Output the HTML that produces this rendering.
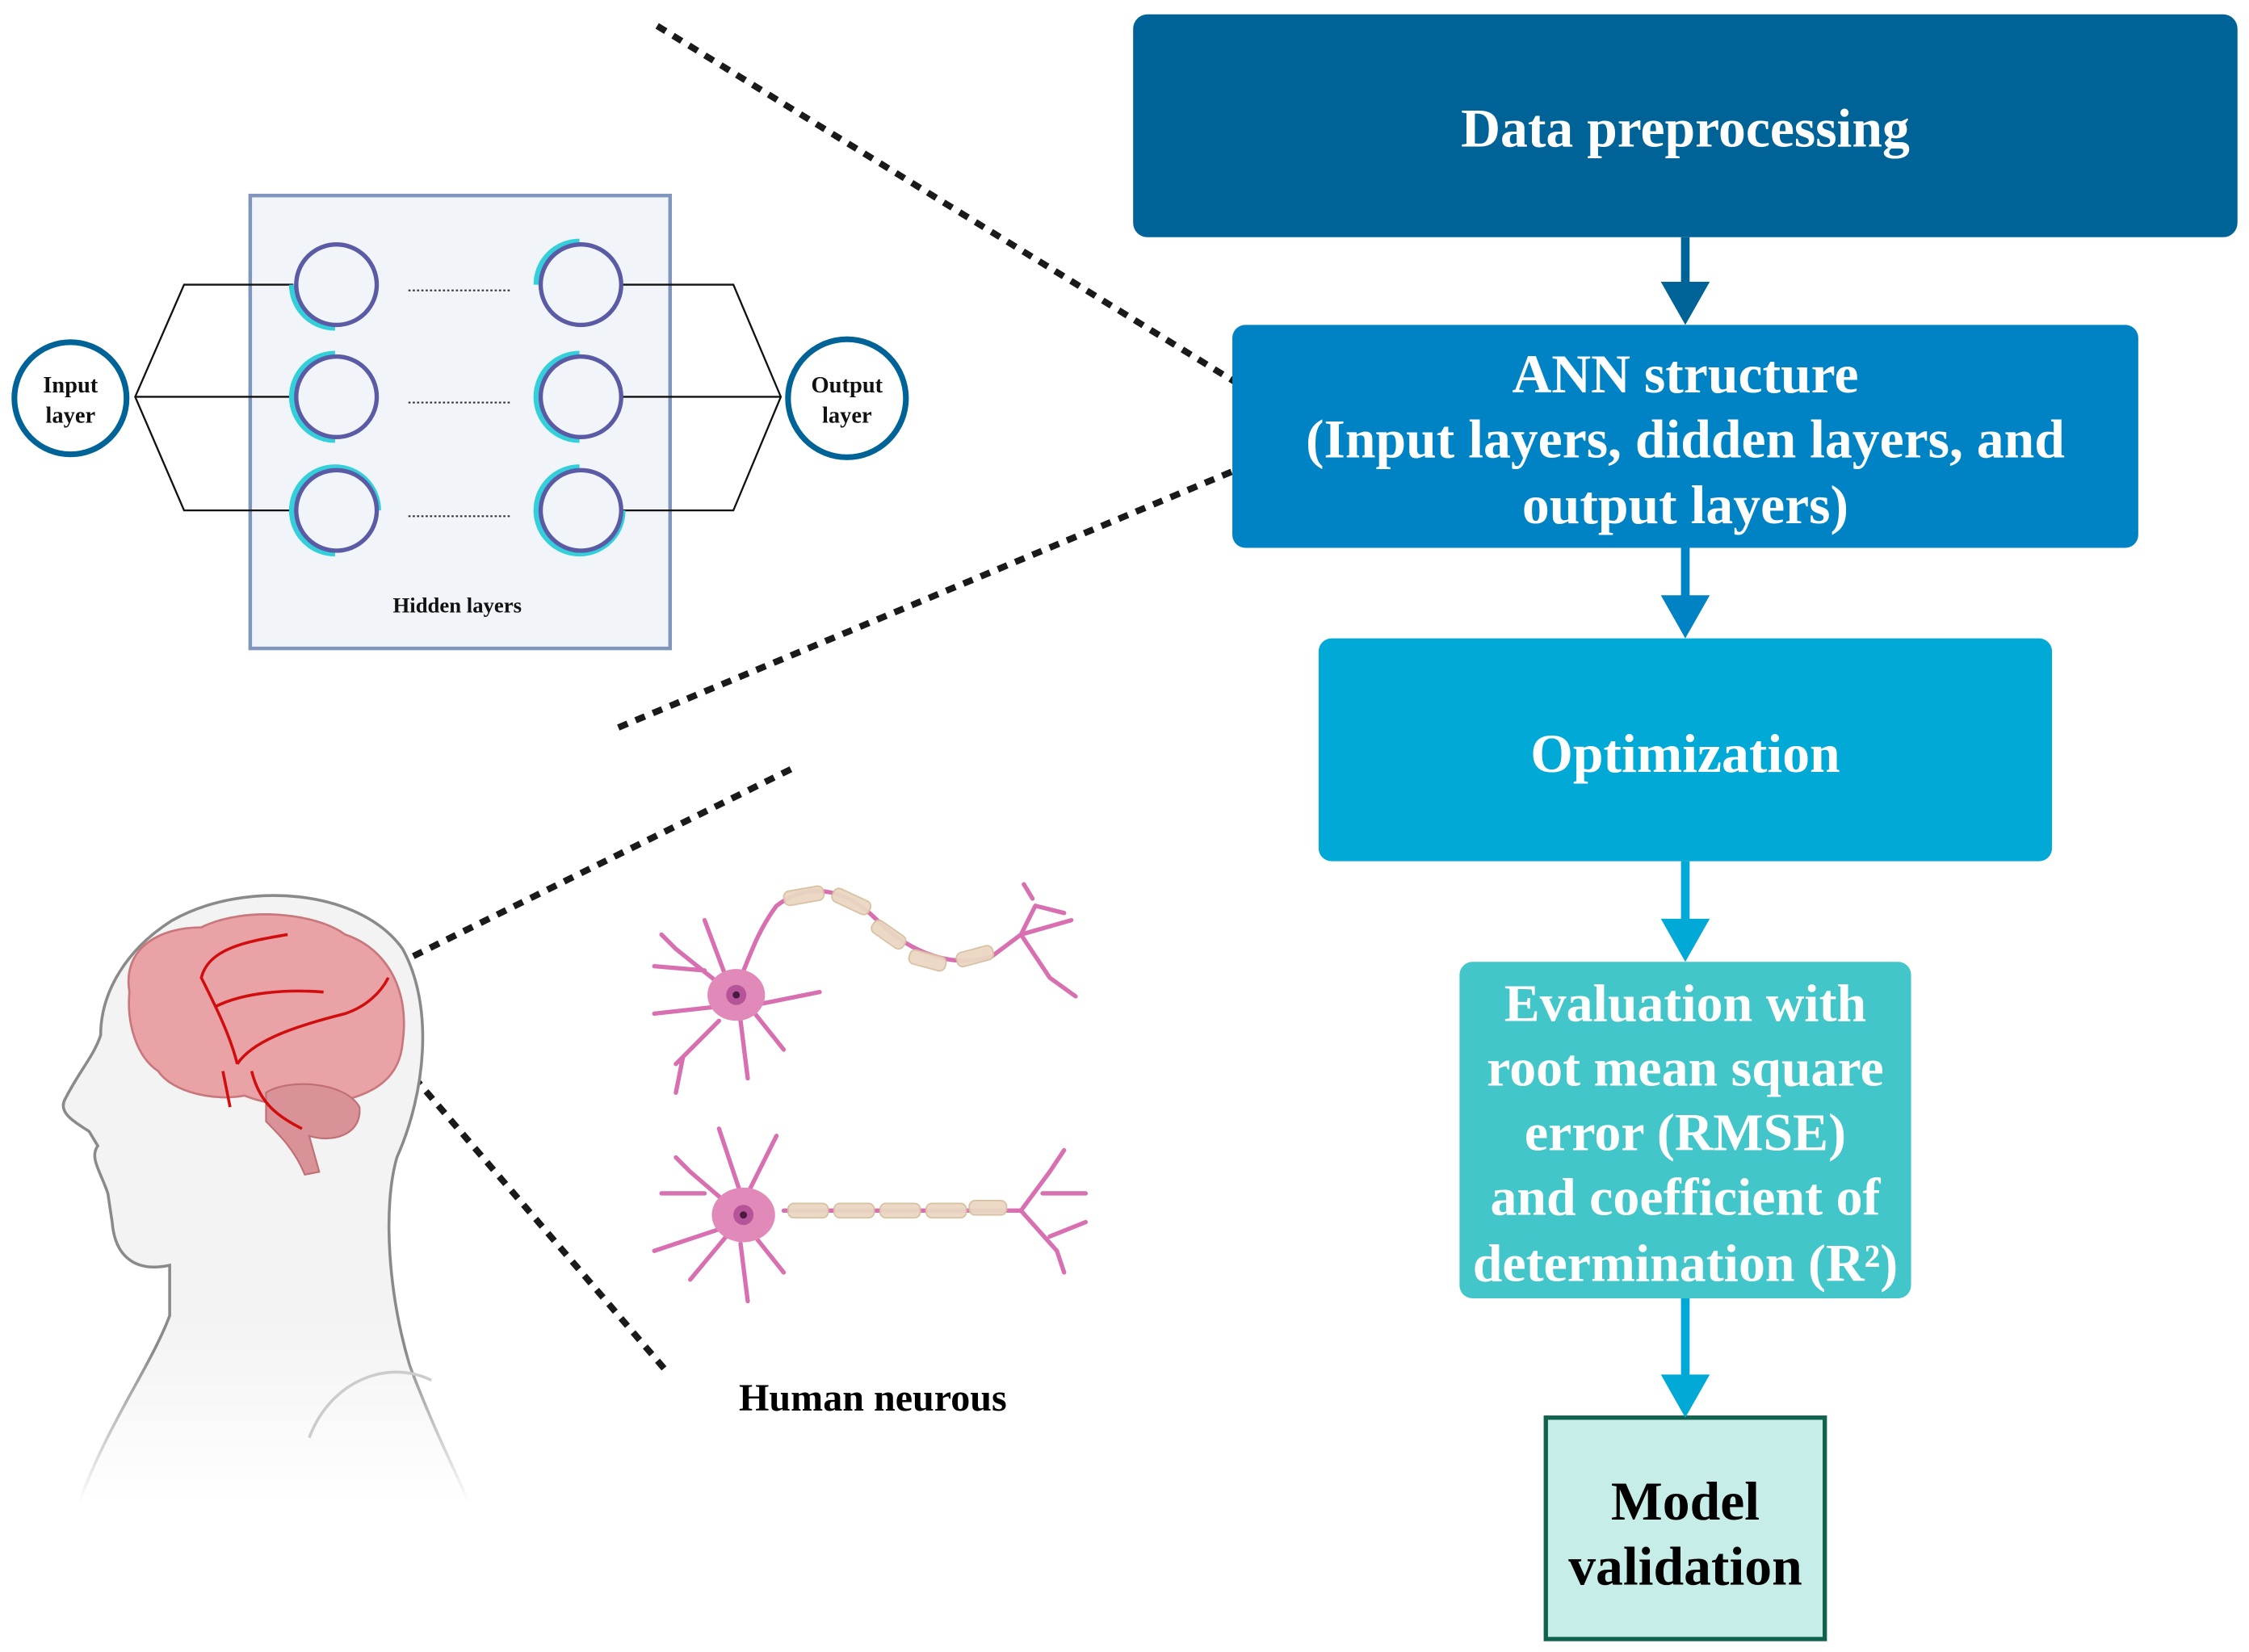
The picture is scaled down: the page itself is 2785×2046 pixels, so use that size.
<!DOCTYPE html>
<html><head><meta charset="utf-8"><style>
html,body{margin:0;padding:0;background:#fff}
svg{display:block}
text{font-family:"Liberation Serif",serif;font-weight:bold}
</style></head><body>
<svg width="2785" height="2046" viewBox="0 0 1564 1149" xmlns="http://www.w3.org/2000/svg">
<g stroke="#1a1a1a" stroke-width="4.5" stroke-dasharray="7,6" fill="none">
<line x1="457" y1="18" x2="900" y2="291"/>
<line x1="430" y1="506" x2="900" y2="310"/>
<line x1="550" y1="535" x2="237" y2="690"/>
<line x1="237" y1="690" x2="462" y2="952"/>
</g>

<rect x="174" y="136" width="292" height="315" fill="#f1f5fa" stroke="#8096bd" stroke-width="2.5"/>
<g stroke="#111" stroke-width="1.3" fill="none">
<polyline points="204,198 128,198 94,276 128,355 204,355"/>
<line x1="94" y1="276" x2="204" y2="276"/>
<polyline points="432,198 510,198 543,276 510,355 432,355"/>
<line x1="432" y1="276" x2="543" y2="276"/>
</g>
<g stroke="#333" stroke-width="1.2" stroke-dasharray="1.5,1.5">
<line x1="284" y1="202" x2="356" y2="202"/>
<line x1="284" y1="280" x2="356" y2="280"/>
<line x1="284" y1="359" x2="356" y2="359"/>
</g>
<g fill="none" stroke="#33d0dc" stroke-width="4">
<path d="M203 198 A30 30 0 0 0 233 228"/>
<path d="M233 246 A30 30 0 0 0 233 306"/>
<path d="M233 325 A30 30 0 0 1 263 355"/>
<path d="M233 325 A30 30 0 0 0 233 385"/>
<path d="M403 168 A30 30 0 0 0 373 198"/>
<path d="M403 246 A30 30 0 0 0 403 306"/>
<path d="M403 325 A30 30 0 0 0 403 385"/>
<path d="M433 355 A30 30 0 0 1 403 385"/>
</g>
<g fill="#f1f5fa" stroke="#5a5aa5" stroke-width="3">
<circle cx="234" cy="198" r="28"/><circle cx="234" cy="276" r="28"/><circle cx="234" cy="355" r="28"/>
<circle cx="404" cy="198" r="28"/><circle cx="404" cy="276" r="28"/><circle cx="404" cy="355" r="28"/>
</g>
<g fill="#fff" stroke="#006397" stroke-width="4">
<circle cx="49" cy="277" r="39"/><circle cx="589" cy="277" r="41"/>
</g>
<g font-size="16" text-anchor="middle" fill="#111">
<text x="49" y="273">Input</text><text x="49" y="294">layer</text>
<text x="589" y="273">Output</text><text x="589" y="294">layer</text>
<text x="318" y="426" font-size="15">Hidden layers</text>
</g>

<defs><linearGradient id="fade" x1="0" y1="0" x2="0" y2="1"><stop offset="0.7" stop-color="#f3f3f3"/><stop offset="1" stop-color="#fff"/></linearGradient>
<linearGradient id="fadeS" x1="0" y1="0" x2="0" y2="1"><stop offset="0.75" stop-color="#8a8a8a"/><stop offset="1" stop-color="#fff"/></linearGradient></defs>
<path d="M55 1045 C75 990,105 950,118 915 L118 880 C95 885,80 875,78 850 L75 830 C70 815,62 805,68 797 L62 787 C55 782,40 775,45 765 C55 745,65 735,70 720 C70 690,88 660,120 640 C170 612,250 618,280 660 C302 700,296 760,276 805 C266 840,270 900,285 950 C300 990,315 1020,326 1045" fill="url(#fade)" stroke="url(#fadeS)" stroke-width="2"/>
<path d="M215 1000 C230 960,270 945,300 960" fill="none" stroke="#ccc" stroke-width="2"/>
<path d="M90 690 C85 660,110 645,140 645 C170 630,220 635,240 650 C270 660,285 690,280 725 C278 750,260 760,240 765 C220 772,190 770,170 762 C150 766,120 760,110 745 C95 735,88 712,90 690 Z" fill="#e9a2a6" stroke="#c9777c" stroke-width="1.5"/>
<path d="M185 760 C200 750,240 752,250 770 C252 790,230 795,215 790 L222 815 L212 817 C205 800,195 790,185 780 Z" fill="#d99297" stroke="#c07075" stroke-width="1.2"/>
<g stroke="#d10d0d" stroke-width="2" fill="none">
<path d="M165 740 C160 720,150 700,140 680 C145 660,170 655,200 650"/>
<path d="M165 740 C175 725,200 715,240 705 C255 700,265 690,270 680"/>
<path d="M175 745 C180 765,190 775,210 785"/>
<path d="M150 700 C170 690,200 688,225 690"/>
<path d="M155 745 L160 770"/>
</g>
<g stroke="#d86fb0" stroke-width="3" fill="none" stroke-linecap="round">
<path d="M510 692 L470 660 M490 675 L455 672 M500 700 L455 705 M500 710 L470 740 M515 710 L520 750 M525 705 L545 730 M520 700 L570 690 M505 680 L490 640 M470 660 L460 650 M475 735 L470 760"/>
<path d="M510 692 C520 670,525 650,540 630 C560 615,585 615,610 640 C630 660,660 675,690 665 L710 650 L720 630 M710 650 L745 640 M710 650 L730 680 L748 693 M718 625 L712 615 M720 630 L740 635"/>
<path d="M515 845 L480 815 M490 830 L460 830 M500 855 L455 870 M505 860 L480 890 M515 865 L520 905 M525 860 L545 885 M515 830 L500 785 M520 830 L540 790 M480 815 L470 805"/>
<path d="M545 842 L710 842 L730 815 L740 800 M710 842 L735 870 L740 885 M725 830 L755 830 M730 860 L755 850"/>
</g>
<g fill="#e189b8">
<ellipse cx="512" cy="692" rx="20" ry="18"/><ellipse cx="517" cy="845" rx="22" ry="19"/>
</g>
<circle cx="512" cy="692" r="7" fill="#b55498"/><circle cx="512" cy="692" r="2.5" fill="#4a1a40"/>
<circle cx="517" cy="845" r="7" fill="#b55498"/><circle cx="517" cy="845" r="2.5" fill="#4a1a40"/>
<g fill="#ead7c3" stroke="#d8bf9f" stroke-width="1" opacity="0.95">
<rect x="545" y="618" width="28" height="10" rx="4" transform="rotate(-10 559 623)"/>
<rect x="578" y="622" width="28" height="10" rx="4" transform="rotate(25 592 627)"/>
<rect x="605" y="645" width="26" height="10" rx="4" transform="rotate(35 618 650)"/>
<rect x="632" y="663" width="26" height="10" rx="4" transform="rotate(15 645 668)"/>
<rect x="665" y="660" width="26" height="10" rx="4" transform="rotate(-15 678 665)"/>
<rect x="548" y="837" width="28" height="10" rx="4"/>
<rect x="580" y="837" width="28" height="10" rx="4"/>
<rect x="612" y="837" width="28" height="10" rx="4"/>
<rect x="644" y="837" width="28" height="10" rx="4"/>
<rect x="674" y="835" width="26" height="10" rx="4"/>
</g>
<text x="607" y="981" font-size="27" text-anchor="middle" fill="#000">Human neurous</text>

<rect x="788" y="10" width="768" height="155" rx="10" fill="#006397"/>
<rect x="857" y="226" width="630" height="155" rx="9" fill="#0083c4"/>
<rect x="917" y="444" width="510" height="155" rx="9" fill="#00a9d6"/>
<rect x="1015" y="669" width="314" height="234" rx="9" fill="#42c6c9"/>
<rect x="1075" y="986" width="194" height="154" fill="#c7ede8" stroke="#11614f" stroke-width="3"/>
<g stroke-width="6">
<line x1="1172" y1="165" x2="1172" y2="200" stroke="#006397"/>
<line x1="1172" y1="381" x2="1172" y2="418" stroke="#0083c4"/>
<line x1="1172" y1="599" x2="1172" y2="643" stroke="#00a9d6"/>
<line x1="1172" y1="903" x2="1172" y2="960" stroke="#00a9d6"/>
</g>
<polygon points="1155,196 1189,196 1172,226" fill="#006397"/>
<polygon points="1155,414 1189,414 1172,444" fill="#0083c4"/>
<polygon points="1155,639 1189,639 1172,669" fill="#00a9d6"/>
<polygon points="1155,956 1189,956 1172,986" fill="#00a9d6"/>
<g font-size="38" text-anchor="middle" fill="#fff">
<text x="1172" y="102">Data preprocessing</text>
<text x="1172" y="273">ANN structure</text>
<text x="1172" y="318">(Input layers, didden layers, and</text>
<text x="1172" y="364">output layers)</text>
<text x="1172" y="537">Optimization</text>
<text x="1172" y="710" font-size="37">Evaluation with</text>
<text x="1172" y="755" font-size="37">root mean square</text>
<text x="1172" y="800" font-size="37">error (RMSE)</text>
<text x="1172" y="845" font-size="37">and coefficient of</text>
<text x="1172" y="891" font-size="37">determination (R²)</text>
</g>
<g font-size="38" text-anchor="middle" fill="#000">
<text x="1172" y="1057">Model</text>
<text x="1172" y="1102">validation</text>
</g>
</svg>
</body></html>
